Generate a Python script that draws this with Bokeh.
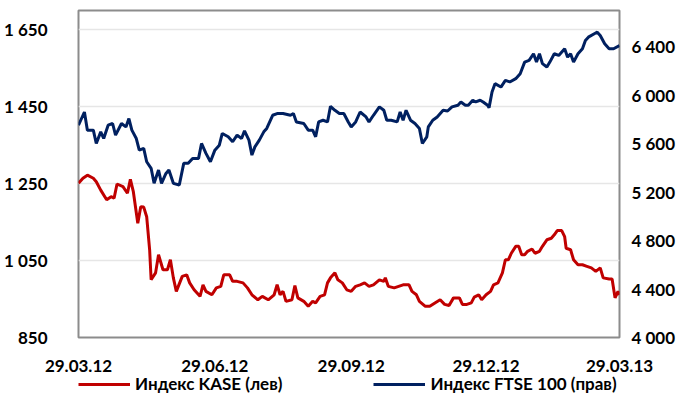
import pandas as pd
from bokeh.plotting import figure
from bokeh.layouts import column
from bokeh.models import (Range1d, LinearAxis, FixedTicker, Legend, LegendItem,
                          DatetimeTickFormatter)
from bokeh.embed import file_html
from bokeh.resources import INLINE

START = "2012-03-29"

# KASE index (left axis): days since 29.03.12 and values
kase_day = [0, 3, 6, 10, 12, 15, 19, 22, 24, 26, 30, 33, 35, 37, 40, 42, 44, 46, 48, 49,
            52, 54, 57, 60, 62, 64, 66, 70, 73, 75, 78, 82, 84, 86, 90, 93, 96, 98, 102, 104,
            107, 111, 114, 117, 121, 124, 128, 132, 134, 136, 138, 140, 144, 146, 148, 152,
            155, 158, 160, 163, 166, 168, 170, 173, 175, 178, 181, 184, 187, 190, 193, 196,
            199, 203, 206, 207, 209, 213, 216, 219, 223, 225, 228, 230, 234, 237, 241, 244,
            247, 250, 253, 257, 259, 262, 265, 267, 270, 272, 275, 278, 280, 283, 286, 288,
            290, 292, 295, 297, 299, 301, 303, 306, 308, 311, 313, 316, 319, 321, 323, 326,
            328, 329, 332, 334, 337, 340, 343, 346, 349, 352, 354, 358, 360, 362, 364, 365]
kase_val = [1251, 1264, 1272, 1264, 1255, 1233, 1208, 1216, 1212, 1249, 1242, 1225, 1261, 1229,
            1147, 1190, 1189, 1164, 1078, 1000, 1018, 1065, 1026, 1026, 1052, 1005, 970, 1009,
            1013, 992, 974, 957, 987, 970, 961, 979, 983, 1013, 1013, 996, 996, 992, 979, 961,
            948, 957, 948, 961, 987, 961, 970, 944, 948, 985, 953, 944, 931, 944, 940, 957, 961,
            992, 1005, 1018, 1000, 992, 974, 970, 983, 987, 992, 983, 987, 1000, 996, 1005, 983,
            979, 983, 987, 987, 970, 961, 944, 931, 931, 941, 948, 936, 933, 953, 953, 936, 936,
            940, 955, 961, 948, 961, 970, 987, 992, 1018, 1052, 1052, 1069, 1087, 1087, 1065,
            1065, 1074, 1080, 1069, 1074, 1087, 1104, 1108, 1117, 1128, 1128, 1112, 1082, 1078,
            1052, 1039, 1039, 1035, 1031, 1022, 1031, 1005, 1002, 1002, 953, 970, 961]

# FTSE 100 index (right axis)
ftse_day = [0, 4, 6, 10, 12, 15, 17, 20, 23, 25, 29, 32, 34, 36, 39, 41, 44, 46, 49, 51, 54,
            56, 59, 61, 64, 68, 71, 74, 77, 81, 83, 86, 89, 92, 95, 97, 101, 104, 107, 110, 112,
            115, 117, 119, 122, 125, 127, 131, 134, 138, 143, 145, 147, 152, 155, 158, 160, 162,
            165, 168, 170, 173, 176, 179, 182, 184, 187, 190, 194, 196, 199, 203, 206, 208, 211,
            215, 217, 219, 221, 224, 227, 230, 232, 235, 236, 239, 242, 246, 249, 252, 256, 258,
            261, 263, 266, 268, 271, 273, 276, 277, 279, 281, 285, 288, 291, 295, 298, 301, 304,
            307, 309, 311, 313, 316, 318, 321, 324, 328, 330, 332, 334, 337, 340, 342, 344, 348,
            350, 352, 355, 358, 361, 365]
ftse_val = [5753, 5862, 5712, 5712, 5602, 5698, 5643, 5753, 5767, 5671, 5767, 5739, 5808, 5712,
            5643, 5547, 5561, 5451, 5397, 5273, 5383, 5273, 5355, 5383, 5273, 5259, 5438, 5438,
            5479, 5479, 5602, 5520, 5451, 5547, 5588, 5685, 5657, 5616, 5671, 5643, 5706, 5630,
            5506, 5574, 5630, 5698, 5726, 5835, 5849, 5849, 5835, 5849, 5780, 5767, 5712, 5712,
            5657, 5780, 5794, 5780, 5909, 5876, 5849, 5849, 5780, 5739, 5780, 5862, 5821, 5780,
            5835, 5904, 5876, 5794, 5794, 5780, 5862, 5794, 5876, 5794, 5767, 5726, 5602, 5657,
            5739, 5794, 5821, 5876, 5870, 5904, 5918, 5945, 5918, 5918, 5959, 5945, 5959, 5945,
            5918, 5898, 6027, 6096, 6068, 6123, 6110, 6137, 6178, 6274, 6288, 6343, 6274, 6343,
            6261, 6233, 6274, 6343, 6329, 6384, 6315, 6343, 6274, 6343, 6384, 6453, 6480, 6508,
            6521, 6494, 6425, 6384, 6384, 6411]

left_ticks = [850, 1050, 1250, 1450, 1650]
left_labels = ["850", "1 050", "1 250", "1 450", "1 650"]
right_ticks = [4000, 4400, 4800, 5200, 5600, 6000, 6400]
right_labels = ["4 000", "4 400", "4 800", "5 200", "5 600", "6 000", "6 400"]
x_tick_dates = ["2012-03-29", "2012-06-29", "2012-09-29", "2012-12-29", "2013-03-29"]
series_names = ["Индекс KASE (лев)", "Индекс FTSE 100 (прав)"]

RED = "#C00000"
BLUE = "#002060"
FONT = "Lato"
FSIZE = "17px"

start = pd.Timestamp(START)
kase_x = [start + pd.Timedelta(days=d) for d in kase_day]
ftse_x = [start + pd.Timedelta(days=d) for d in ftse_day]
x_ticks = [pd.Timestamp(d).value / 1e6 for d in x_tick_dates]

p = figure(width=678, height=374, x_axis_type="datetime", output_backend="svg",
           toolbar_location=None,
           x_range=Range1d(pd.Timestamp(x_tick_dates[0]), pd.Timestamp(x_tick_dates[-1])),
           y_range=Range1d(850, 1700),
           min_border_left=78, min_border_right=51, min_border_top=10, min_border_bottom=36)
p.extra_y_ranges = {"right": Range1d(4000, 6700)}

p.outline_line_color = "#8c8c8c"
p.outline_line_width = 2
p.background_fill_color = "white"
p.border_fill_color = "white"

p.xgrid.visible = False
p.ygrid.ticker = FixedTicker(ticks=left_ticks)
p.ygrid.grid_line_color = "#e6e6e6"
p.ygrid.grid_line_width = 1.5

def style_axis(ax, standoff):
    ax.axis_line_color = None
    ax.major_tick_line_color = None
    ax.minor_tick_line_color = None
    ax.major_label_text_font = FONT
    ax.major_label_text_font_style = "bold"
    ax.major_label_text_font_size = FSIZE
    ax.major_label_text_color = "#000000"
    ax.major_label_standoff = standoff

yax = p.yaxis[0]
yax.ticker = FixedTicker(ticks=left_ticks)
yax.major_label_overrides = {t: l for t, l in zip(left_ticks, left_labels)}
style_axis(yax, 25)

rax = LinearAxis(y_range_name="right", ticker=FixedTicker(ticks=right_ticks))
rax.major_label_overrides = {t: l for t, l in zip(right_ticks, right_labels)}
style_axis(rax, 6)
p.add_layout(rax, "right")

xax = p.xaxis[0]
xax.ticker = FixedTicker(ticks=x_ticks)
fmt = "%d.%m.%y"
xax.formatter = DatetimeTickFormatter(days=fmt, months=fmt, years=fmt, hours=fmt,
                                      minutes=fmt, seconds=fmt, milliseconds=fmt,
                                      microseconds=fmt, minsec=fmt, hourmin=fmt)
style_axis(xax, 16)

p.line(kase_x, kase_val, line_color=RED, line_width=3)
p.line(ftse_x, ftse_val, line_color=BLUE, line_width=3, y_range_name="right")

# legend strip below the chart (its own lines sit outside its visible range)
lg = figure(width=678, height=20, output_backend="svg", toolbar_location=None,
            x_range=Range1d(0, 1), y_range=Range1d(0, 1),
            x_axis_location=None, y_axis_location=None,
            min_border_left=0, min_border_right=0, min_border_top=0, min_border_bottom=0)
lg.frame_align = False
lg.grid.visible = False
lg.outline_line_color = None
lr1 = lg.line([5, 6], [5, 6], line_color=RED, line_width=3)
lr2 = lg.line([5, 6], [5, 6], line_color=BLUE, line_width=3)

legend = Legend(items=[LegendItem(label=series_names[0], renderers=[lr1]),
                       LegendItem(label=series_names[1], renderers=[lr2])],
                orientation="horizontal", location=(78, 0))
legend.border_line_color = None
legend.background_fill_alpha = 0
legend.margin = 0
legend.padding = 0
legend.spacing = 91
legend.glyph_width = 52
legend.glyph_height = 20
legend.label_height = 20
legend.label_standoff = 5
legend.label_text_font = FONT
legend.label_text_font_style = "bold"
legend.label_text_font_size = FSIZE
legend.label_text_color = "#000000"
lg.add_layout(legend, "center")

layout = column(p, lg, spacing=0)
open("out.html", "w").write(file_html(layout, INLINE))
